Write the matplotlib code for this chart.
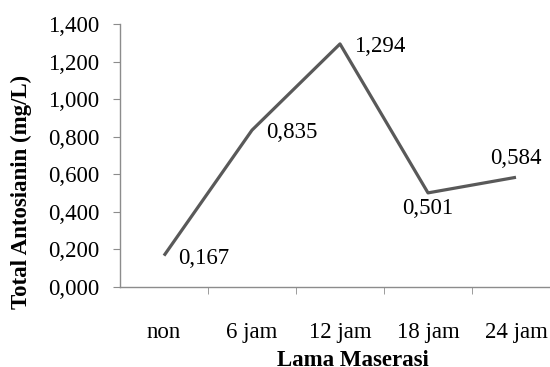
import matplotlib.pyplot as plt
import numpy as np
from matplotlib.ticker import FuncFormatter

# lama maserasi vs total antosianin
categories = ['non', '6 jam', '12 jam', '18 jam', '24 jam']
antosianin = [0.167, 0.835, 1.294, 0.501, 0.584]
label_pos = ['right', 'right', 'right', 'below', 'above']

plt.rcParams['font.family'] = ['Liberation Serif', 'DejaVu Serif']
fs = 16.5

fig = plt.figure(figsize=(5.5, 3.67), dpi=100)
ax = fig.add_axes([120 / 550, 1 - 287 / 367, 440 / 550, 263 / 367])

x = np.arange(len(categories))
ax.plot(x, antosianin, color='#595959', lw=2.3, solid_capstyle='butt')

def comma(v):
    return f'{v:.3f}'.replace('.', ',')

for xi, yi, pos in zip(x, antosianin, label_pos):
    if pos == 'right':
        ax.annotate(comma(yi), (xi, yi), xytext=(10, -2), textcoords='offset points',
                    ha='left', va='center', fontsize=fs)
    elif pos == 'below':
        ax.annotate(comma(yi), (xi, yi), xytext=(0, -4), textcoords='offset points',
                    ha='center', va='top', fontsize=fs)
    else:
        ax.annotate(comma(yi), (xi, yi), xytext=(0, 6), textcoords='offset points',
                    ha='center', va='bottom', fontsize=fs)

ax.set_xlim(-0.5, 4.5)
ax.set_ylim(0, 1.4)
ax.set_yticks(np.arange(0, 1.41, 0.2))
ax.yaxis.set_major_formatter(FuncFormatter(lambda v, p: comma(v)))
ax.set_xticks(x)
ax.set_xticklabels(categories)
ax.set_xticks(np.arange(0.5, 4, 1), minor=True)

for s in ['top', 'right']:
    ax.spines[s].set_visible(False)
for s in ['left', 'bottom']:
    ax.spines[s].set_color('#8c8c8c')
    ax.spines[s].set_linewidth(1)

ax.tick_params(axis='y', length=5, color='#8c8c8c', labelsize=fs, pad=10)
ax.tick_params(axis='x', which='major', length=0, labelsize=fs, pad=25)
ax.tick_params(axis='x', which='minor', length=5, color='#8c8c8c')

ax.set_ylabel('Total Antosianin (mg/L)', fontsize=fs, fontweight='bold')
ax.yaxis.set_label_coords(-0.2, 0.36)
ax.set_xlabel('Lama Maserasi', fontsize=fs, fontweight='bold')
ax.xaxis.set_label_coords(0.53, -0.24)

fig.savefig('out.png', dpi=100)
